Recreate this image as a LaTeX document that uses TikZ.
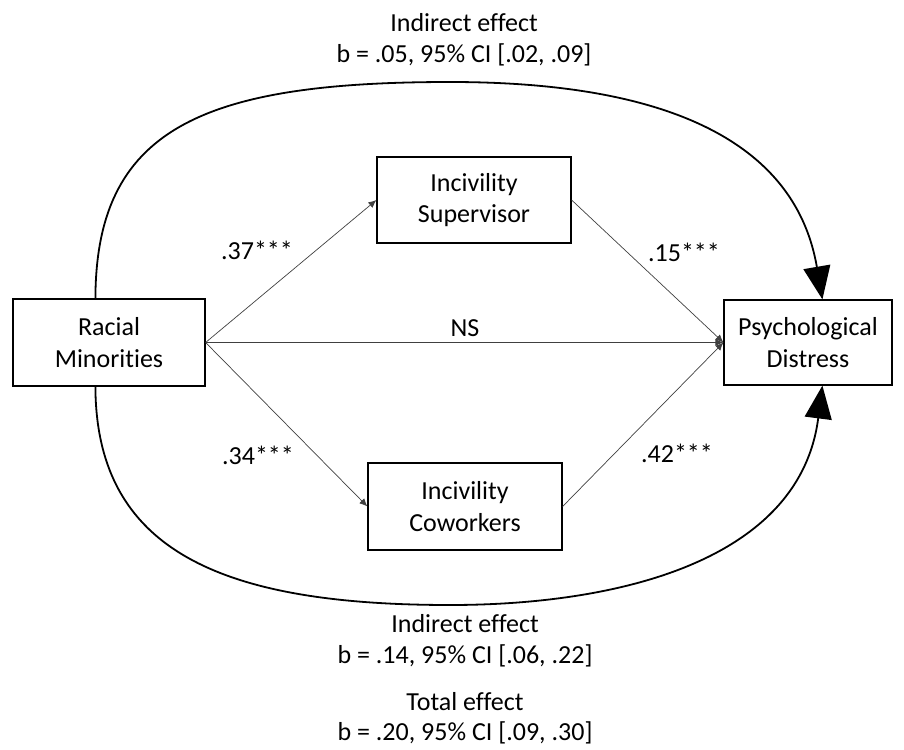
\documentclass[tikz,border=0pt]{standalone}
\usepackage{fontspec}
\setmainfont{Carlito}[Ligatures=NoCommon]
\usetikzlibrary{arrows.meta,calc}
\begin{document}
\begin{tikzpicture}[x=1pt,y=-1pt,
  every node/.style={font=\fontsize{26}{31.7}\selectfont},
  box/.style={draw, line width=1.2pt, align=center, inner sep=0pt},
  path/.style={draw=black!75, line width=0.7pt, -{Latex[length=8pt,width=7pt]}},
  effect/.style={draw, line width=1.8pt, -{Triangle[length=33pt,width=27pt]}},
  lbl/.style={anchor=base, inner sep=0pt}]
\useasboundingbox (0,0) rectangle (904,749);
\node[box, minimum width=192pt, minimum height=87pt] (racial) at (109,342.5) {Racial\\Minorities};
\node[box, minimum width=194pt, minimum height=86pt] (sup) at (474,200) {Incivility\\Supervisor};
\node[box, minimum width=194pt, minimum height=87pt] (cow) at (465,506.5) {Incivility\\Coworkers};
\node[box, minimum width=168pt, minimum height=85pt] (dist) at (808,342.5) {Psychological\\Distress};
\draw[path] (racial.east) -- (sup.west);
\draw[path] (racial.east) -- (cow.west);
\draw[path] (racial.east) -- (dist.west);
\draw[path] (sup.east) -- (dist.west);
\draw[path] (cow.east) -- (dist.west);
\coordinate (tA) at ($(racial.north west)+(83,0)$);
\coordinate (bA) at ($(racial.south west)+(83,0)$);
\coordinate (tB) at ($(dist.north west)+(99,0)$);
\coordinate (bB) at ($(dist.south west)+(99,0)$);
\draw[effect] (tA) .. controls (96,130) and (200,82) .. (450,82) .. controls (600,82) and (790,110) .. (tB);
\draw[effect] (bA) .. controls (96,550) and (220,605) .. (450,605) .. controls (620,605) and (800,560) .. (bB);
\node[lbl] (t1) at (464,32) {Indirect effect};
\node[lbl] (t2) at (464,63) {b = .05, 95\% CI [.02, .09]};
\node (l37) at (257,250) {.37***};
\node (l15) at (684,252) {.15***};
\node (lns) at (465,328) {NS};
\node (l34) at (258,455) {.34***};
\node (l42) at (677,453) {.42***};
\node[lbl] (b1) at (465,632) {Indirect effect};
\node[lbl] (b2) at (465,663) {b = .14, 95\% CI [.06, .22]};
\node[lbl] (b3) at (465,710) {Total effect};
\node[lbl] (b4) at (465,740) {b = .20, 95\% CI [.09, .30]};
\end{tikzpicture}
\end{document}
